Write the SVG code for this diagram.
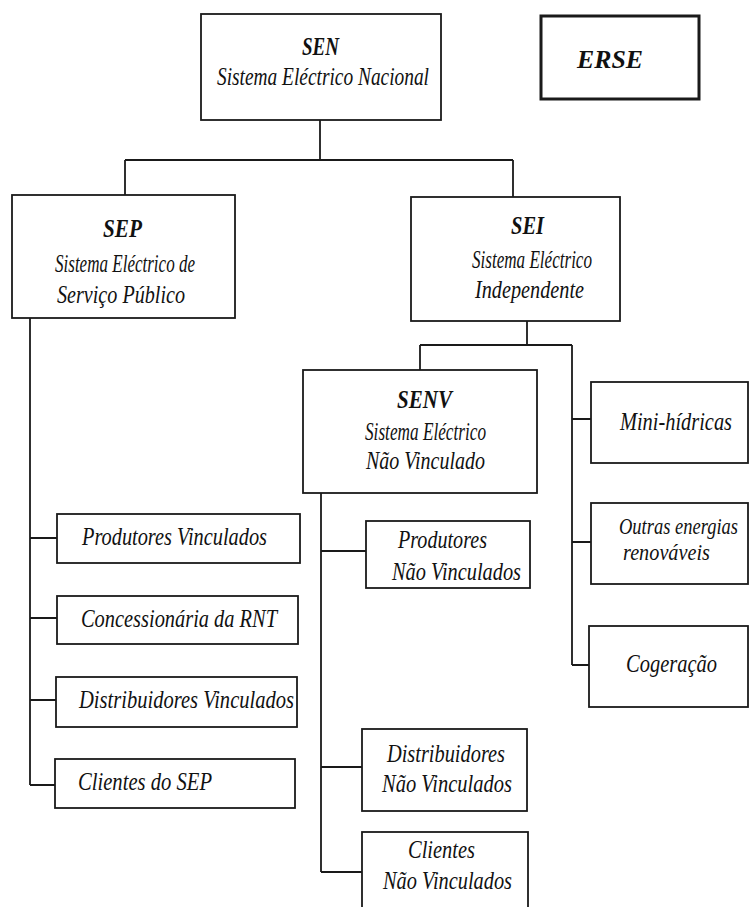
<svg xmlns="http://www.w3.org/2000/svg" width="750" height="907" viewBox="0 0 750 907">
<style>
rect{fill:#fff;stroke:#1a1a1a;stroke-width:1.8}
.thick{stroke-width:3}
#connectors path{fill:none;stroke:#1a1a1a;stroke-width:1.8}
text{font-family:"Liberation Serif","Times New Roman",serif;font-style:italic;fill:#111;font-size:26px}
.t{font-weight:bold;font-size:26px}
.c{font-size:25px}
.s{font-size:23px}
</style>
<rect x="0" y="0" width="750" height="907" style="fill:#fff;stroke:none"/>
<g id="connectors">
<path d="M320 120V160M125 160H513M125 160V195M513 160V197"/>
<path d="M30 318V785M30 538H57M30 618H57M30 700H56M30 785H55"/>
<path d="M527 321V345M420 345H572M420 345V370M572 345V665M572 419H591M572 542H591M572 665H591"/>
<path d="M321 493V872M321 551H366M321 767H362M321 872H362"/>
</g>
<g id="sen">
<rect x="201" y="14" width="240" height="106"/>
<text class="t" x="302" y="55" textLength="37" lengthAdjust="spacingAndGlyphs">SEN</text>
<text x="217" y="85" textLength="212" lengthAdjust="spacingAndGlyphs">Sistema Eléctrico Nacional</text>
</g>
<g id="erse">
<rect class="thick" x="541" y="16" width="158" height="83"/>
<text class="t" x="577" y="68" textLength="66" lengthAdjust="spacingAndGlyphs">ERSE</text>
</g>
<g id="sep">
<rect x="12" y="195" width="223" height="123"/>
<text class="t" x="103" y="237" textLength="39" lengthAdjust="spacingAndGlyphs">SEP</text>
<text class="c" x="55" y="272" textLength="140" lengthAdjust="spacingAndGlyphs">Sistema Eléctrico de</text>
<text x="57" y="303" textLength="128" lengthAdjust="spacingAndGlyphs">Serviço Público</text>
</g>
<g id="sei">
<rect x="411" y="197" width="209" height="124"/>
<text class="t" x="511" y="234" textLength="33" lengthAdjust="spacingAndGlyphs">SEI</text>
<text class="c" x="472" y="268" textLength="120" lengthAdjust="spacingAndGlyphs">Sistema Eléctrico</text>
<text x="475" y="298" textLength="109" lengthAdjust="spacingAndGlyphs">Independente</text>
</g>
<g id="senv">
<rect x="303" y="370" width="234" height="123"/>
<text class="t" x="397" y="408" textLength="55" lengthAdjust="spacingAndGlyphs">SENV</text>
<text class="c" x="365" y="440" textLength="121" lengthAdjust="spacingAndGlyphs">Sistema Eléctrico</text>
<text x="366" y="469" textLength="119" lengthAdjust="spacingAndGlyphs">Não Vinculado</text>
</g>
<g id="produtores-vinculados">
<rect x="57" y="514" width="243" height="49"/>
<text x="82" y="545" textLength="185" lengthAdjust="spacingAndGlyphs">Produtores Vinculados</text>
</g>
<g id="concessionaria">
<rect x="57" y="596" width="241" height="48"/>
<text x="81" y="627" textLength="196" lengthAdjust="spacingAndGlyphs">Concessionária da RNT</text>
</g>
<g id="distribuidores-vinculados">
<rect x="56" y="677" width="241" height="50"/>
<text x="79" y="708" textLength="215" lengthAdjust="spacingAndGlyphs">Distribuidores Vinculados</text>
</g>
<g id="clientes-sep">
<rect x="55" y="759" width="240" height="49"/>
<text x="78" y="790" textLength="134" lengthAdjust="spacingAndGlyphs">Clientes do SEP</text>
</g>
<g id="produtores-nv">
<rect x="366" y="521" width="164" height="67"/>
<text x="398" y="548" textLength="89" lengthAdjust="spacingAndGlyphs">Produtores</text>
<text x="392" y="580" textLength="129" lengthAdjust="spacingAndGlyphs">Não Vinculados</text>
</g>
<g id="distribuidores-nv">
<rect x="362" y="729" width="165" height="82"/>
<text x="387" y="762" textLength="118" lengthAdjust="spacingAndGlyphs">Distribuidores</text>
<text x="382" y="792" textLength="130" lengthAdjust="spacingAndGlyphs">Não Vinculados</text>
</g>
<g id="clientes-nv">
<rect x="362" y="832" width="166" height="82"/>
<text x="408" y="858" textLength="67" lengthAdjust="spacingAndGlyphs">Clientes</text>
<text x="383" y="889" textLength="129" lengthAdjust="spacingAndGlyphs">Não Vinculados</text>
</g>
<g id="mini-hidricas">
<rect x="591" y="382" width="157" height="81"/>
<text class="c" x="620" y="430" textLength="112" lengthAdjust="spacingAndGlyphs">Mini-hídricas</text>
</g>
<g id="outras-energias">
<rect x="591" y="503" width="157" height="81"/>
<text class="s" x="619" y="534" textLength="119" lengthAdjust="spacingAndGlyphs">Outras energias</text>
<text class="s" x="623" y="560" textLength="87" lengthAdjust="spacingAndGlyphs">renováveis</text>
</g>
<g id="cogeracao">
<rect x="589" y="626" width="159" height="81"/>
<text x="626" y="672" textLength="91" lengthAdjust="spacingAndGlyphs">Cogeração</text>
</g>
</svg>
